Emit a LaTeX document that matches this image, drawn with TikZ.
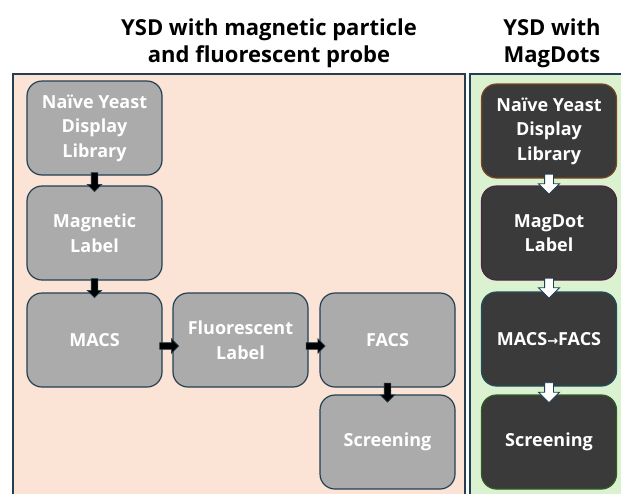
\documentclass[tikz,border=0pt]{standalone}
\usepackage{fontspec}
\setmainfont{Open Sans}
\newfontfamily\symfont{DejaVu Sans}
\usetikzlibrary{shapes.arrows}

\definecolor{peach}{HTML}{FBE3D6}
\definecolor{mint}{HTML}{DAF2D0}
\definecolor{slate}{HTML}{243F52}
\definecolor{boxgray}{HTML}{ABABAB}
\definecolor{boxdark}{HTML}{3A3A3A}
\definecolor{edgebrown}{HTML}{7A4520}
\definecolor{edgeplum}{HTML}{4E2346}
\definecolor{edgeteal}{HTML}{1F4E5E}
\definecolor{edgegreen}{HTML}{2F5C22}

\tikzset{
  panel/.style={draw=slate, line width=1.3pt},
  stage/.style={rounded corners=15pt, minimum width=135pt, minimum height=94pt,
    inner sep=2pt, align=center, text=white, line width=1.2pt,
    font=\bfseries\fontsize{18}{24.5}\selectfont},
  greystage/.style={stage, draw=slate, fill=boxgray},
  darkstage/.style={stage, fill=boxdark},
  heading/.style={align=center, inner sep=0pt, font=\bfseries\fontsize{22}{27}\selectfont},
  blackarrow/.style={single arrow, draw=slate, fill=black, line width=0.6pt,
    single arrow head extend=4pt, minimum height=19pt,
    single arrow head indent=0pt, inner sep=0pt, sloped},
  whitearrow/.style={single arrow, draw=slate, fill=white, line width=0.9pt,
    single arrow head extend=6pt, minimum height=20pt,
    single arrow head indent=0pt, inner sep=0pt, sloped},
}
% an empty strut sets the shaft thickness of a block arrow
\newcommand\shaft[1]{\rule{0pt}{#1}}

\begin{document}
\begin{tikzpicture}[x=1pt, y=-1pt]
\useasboundingbox (0,0) rectangle (621,493);
\clip (0,0) rectangle (621,493);

% headings
\node[heading] (hleft) at (269,43) {YSD with magnetic particle\\and fluorescent probe};
\node[heading] (hright) at (552,43) {YSD with\\MagDots};

% background panels
\draw[panel, fill=peach] (13,74) rectangle (465,500);
\draw[panel, fill=mint] (470,74) rectangle (626,500);

% conventional workflow
\node[greystage] (lib)  at (94.5,128)  {Naïve Yeast\\Display\\Library};
\node[greystage] (mag)  at (94.5,233)  {Magnetic\\Label};
\node[greystage] (macs) at (94.5,340)  {MACS};
\node[greystage] (flu)  at (240.5,340) {Fluorescent\\Label};
\node[greystage] (facs) at (387.5,340) {FACS};
\node[greystage] (scr)  at (387.5,442) {Screening};

% MagDot workflow
\node[darkstage, draw=edgebrown] (rlib)  at (549,131) {Naïve Yeast\\Display\\Library};
\node[darkstage, draw=edgeplum]  (rmag)  at (549,233)   {MagDot\\Label};
\node[darkstage, draw=edgeteal]  (rsort) at (549,339)   {MACS{\symfont\fontsize{13}{13}\selectfont →}FACS};
\node[darkstage, draw=edgegreen] (rscr)  at (549,442)   {Screening};

% connectors
\path (lib.south) -- (mag.north) node[midway, blackarrow] {\shaft{6pt}};
\path (mag.south) -- (macs.north) node[midway, blackarrow] {\shaft{6pt}};
\path ([yshift=-6pt]macs.east) -- ([yshift=-6pt]flu.west) node[midway, blackarrow] {\shaft{6pt}};
\path ([yshift=-6pt]flu.east) -- ([yshift=-6pt]facs.west) node[midway, blackarrow] {\shaft{6pt}};
\path (facs.south) -- (scr.north) node[midway, blackarrow] {\shaft{6pt}};

\path (rlib.south) -- (rmag.north) node[midway, whitearrow] {\shaft{8pt}};
\path (rmag.south) -- (rsort.north) node[midway, whitearrow] {\shaft{8pt}};
\path (rsort.south) -- (rscr.north) node[midway, whitearrow] {\shaft{8pt}};
\end{tikzpicture}
\end{document}
